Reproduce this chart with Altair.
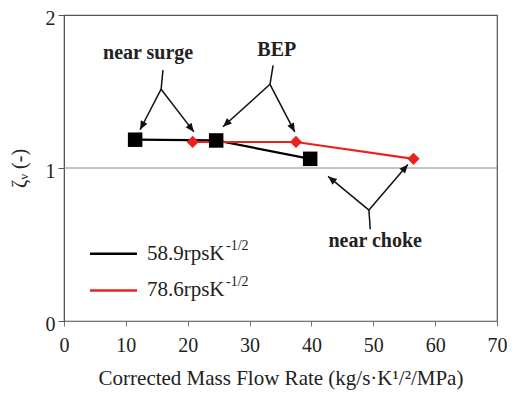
import math
import altair as alt
import pandas as pd

# ---- data ----
black_x = [11.5, 24.6, 39.8]
black_y = [1.185, 1.18, 1.06]
red_x = [20.8, 37.5, 56.5]
red_y = [1.17, 1.17, 1.06]
series_names = ["58.9rpsK", "78.6rpsK"]
series_colors = ["#000000", "#e8231f"]

x_ticks = [0, 10, 20, 30, 40, 50, 60, 70]
y_ticks = [0, 1, 2]

# annotations: label, label position, stem (top, junction), arrow tips
ann_labels = ["near surge", "BEP", "near choke"]
ann_label_x = [13.6, 34.4, 50.3]
ann_label_y = [1.75, 1.77, 0.52]
ann_stem_x = [16.0, 33.8, 49.5]
ann_stem_y = [1.64, 1.67, 0.60]
ann_join_x = [15.7, 33.3, 49.3]
ann_join_y = [1.515, 1.547, 0.725]
ann_tip1_x = [12.3, 25.7, 42.7]
ann_tip1_y = [1.25, 1.27, 0.945]
ann_tip2_x = [21.0, 37.3, 55.6]
ann_tip2_y = [1.236, 1.236, 1.023]

legend_line_x = [4.2, 11.8]
legend_y = [0.44, 0.20]
legend_text_x = 13.4
legend_sup_x = 26.2
legend_sup = "-1/2"

W, H = 433, 306
XMAX, YMAX = 70, 2
FONT = "Liberation Serif"

xs = alt.Scale(domain=[0, XMAX], nice=False, zero=False)
ys = alt.Scale(domain=[0, YMAX], nice=False, zero=False)

# ---- tables ----
pts = pd.DataFrame({
    "x": black_x + red_x,
    "y": black_y + red_y,
    "s": [series_names[0]] * 3 + [series_names[1]] * 3,
})

segs = []
tips = []
for i in range(3):
    segs.append(dict(x=ann_stem_x[i], y=ann_stem_y[i], x2=ann_join_x[i], y2=ann_join_y[i]))
    for tx, ty in [(ann_tip1_x[i], ann_tip1_y[i]), (ann_tip2_x[i], ann_tip2_y[i])]:
        segs.append(dict(x=ann_join_x[i], y=ann_join_y[i], x2=tx, y2=ty))
        dxp = (tx - ann_join_x[i]) * W / XMAX
        dyp = -(ty - ann_join_y[i]) * H / YMAX
        ang = math.degrees(math.atan2(dxp, -dyp)) % 360
        tips.append(dict(x=tx, y=ty, a=ang))
segs = pd.DataFrame(segs)
tips = pd.DataFrame(tips)
labels = pd.DataFrame({"x": ann_label_x, "y": ann_label_y, "t": ann_labels})

base_x = alt.X("x:Q", scale=xs, axis=alt.Axis(
    values=x_ticks, labelExpr="'' + datum.value",
    title="Corrected Mass Flow Rate (kg/s·K¹/²/MPa)",
    grid=False, domainColor="#777", tickColor="#777", tickSize=5,
    labelPadding=9, titlePadding=12, labelFont=FONT, labelFontSize=20,
    titleFont=FONT, titleFontSize=21, titleFontWeight="normal",
    labelColor="#222", titleColor="#222", labelOverlap=False, labelFlush=False))
base_y = alt.Y("y:Q", scale=ys, axis=alt.Axis(
    values=y_ticks, labelExpr="'' + datum.value", title="ζᵥ (-)", grid=False,
    domainColor="#555", tickColor="#555", tickSize=6, labelOffset=3,
    labelPadding=3, titlePadding=16, labelFont=FONT, labelFontSize=20,
    titleFont=FONT, titleFontSize=20, titleFontWeight="normal",
    labelColor="#222", titleColor="#222", labelOverlap=False, labelFlush=False))

color = alt.Color("s:N", scale=alt.Scale(domain=series_names, range=series_colors), legend=None)

refline = alt.Chart(pd.DataFrame({"x": [0, XMAX], "y": [1.0, 1.0]})).mark_line(
    color="#888", strokeWidth=1).encode(x=base_x, y=base_y)

lines = alt.Chart(pts).mark_line(strokeWidth=2.2).encode(
    x=alt.X("x:Q", scale=xs), y=alt.Y("y:Q", scale=ys), color=color)

black_pts = alt.Chart(pts[pts.s == series_names[0]]).mark_point(
    shape="square", filled=True, size=210, opacity=1, color="#000").encode(
    x=alt.X("x:Q", scale=xs), y=alt.Y("y:Q", scale=ys))
red_pts = alt.Chart(pts[pts.s == series_names[1]]).mark_point(
    shape="diamond", filled=True, size=150, opacity=1, color=series_colors[1]).encode(
    x=alt.X("x:Q", scale=xs), y=alt.Y("y:Q", scale=ys))

arrow_lines = alt.Chart(segs).mark_rule(color="#111", strokeWidth=1.5).encode(
    x=alt.X("x:Q", scale=xs), y=alt.Y("y:Q", scale=ys), x2="x2:Q", y2="y2:Q")
arrow_heads = alt.Chart(tips).mark_point(
    shape="M0,0 L-0.55,1.3 L0.55,1.3 Z", filled=True, size=180, opacity=1, color="#111").encode(
    x=alt.X("x:Q", scale=xs), y=alt.Y("y:Q", scale=ys), angle=alt.Angle("a:Q", scale=None))
ann_text = alt.Chart(labels).mark_text(font=FONT, fontSize=20, fontWeight="bold",
                                       color="#222").encode(
    x=alt.X("x:Q", scale=xs), y=alt.Y("y:Q", scale=ys), text="t:N")

leg = pd.DataFrame({
    "x": [legend_line_x[0]] * 2, "x2": [legend_line_x[1]] * 2, "y": legend_y,
    "s": series_names, "tx": [legend_text_x] * 2, "sx": [legend_sup_x] * 2,
    "sup": [legend_sup] * 2,
})
leg_lines = alt.Chart(leg).mark_rule(strokeWidth=2.5).encode(
    x=alt.X("x:Q", scale=xs), x2="x2:Q", y=alt.Y("y:Q", scale=ys), color=color)
leg_text = alt.Chart(leg).mark_text(font=FONT, fontSize=21, align="left", color="#222").encode(
    x=alt.X("tx:Q", scale=xs), y=alt.Y("y:Q", scale=ys), text="s:N")
leg_sup = alt.Chart(leg).mark_text(font=FONT, fontSize=14, align="left", dy=-8,
                                   color="#222").encode(
    x=alt.X("sx:Q", scale=xs), y=alt.Y("y:Q", scale=ys), text="sup:N")

chart = alt.layer(
    refline, lines, black_pts, red_pts, arrow_lines, arrow_heads, ann_text,
    leg_lines, leg_text, leg_sup,
).properties(
    width=W, height=H, background="white",
    autosize=alt.AutoSizeParams(type="none"),
    padding={"left": 56, "top": 7, "right": 12, "bottom": 72},
).configure_view(stroke="#555", strokeWidth=1.2)

chart.save("out.html", embed_options={"renderer": "svg", "actions": False})
